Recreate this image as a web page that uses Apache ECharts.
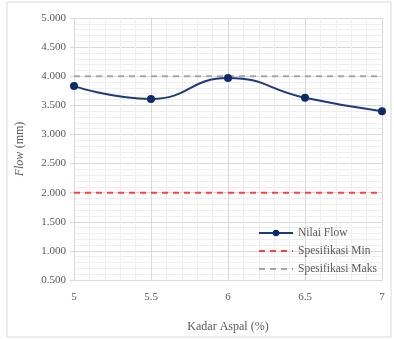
<!DOCTYPE html>
<html><head><meta charset="utf-8">
<script src="https://cdn.jsdelivr.net/npm/echarts@6/dist/echarts.min.js"></script>
<style>html,body{margin:0;padding:0;background:#fff}#c{width:394px;height:339px}</style>
</head><body><div id="c"></div>
<script>
var kadar = [5, 5.5, 6, 6.5, 7];
var nilaiFlow = [3.83, 3.61, 3.97, 3.63, 3.40];
var specMin = [2.0, 2.0, 2.0, 2.0, 2.0];
var specMaks = [4.0, 4.0, 4.0, 4.0, 4.0];
var font = '"Liberation Serif", "Times New Roman", serif';
function pairs(ys){return kadar.map(function(x,i){return [x, ys[i]];});}
var chart = echarts.init(document.getElementById('c'));
chart.setOption({
  animation:false,
  graphic:[{type:'rect',shape:{x:7,y:2,width:384,height:335},style:{fill:'none',stroke:'#d9d9d9',lineWidth:1},silent:true}],
  grid:{left:74,right:12,top:18,bottom:59},
  xAxis:{type:'value',min:5,max:7,interval:0.5,
    name:'Kadar Aspal (%)',nameLocation:'middle',nameGap:41,
    nameTextStyle:{fontFamily:font,fontSize:12,color:'#595959'},
    axisLine:{show:true,lineStyle:{color:'#d9d9d9'}},axisTick:{show:false},
    axisLabel:{fontFamily:font,fontSize:11,color:'#595959',margin:12},
    splitLine:{show:true,lineStyle:{color:'#d9d9d9',width:1}},
    minorTick:{show:false,splitNumber:5},
    minorSplitLine:{show:true,lineStyle:{color:'#efefef',width:1}}},
  yAxis:{type:'value',min:0.5,max:5,interval:0.5,
    name:'{i|Flow} {n|(mm)}',nameLocation:'middle',nameGap:48,nameRotate:90,
    nameTextStyle:{rich:{i:{fontFamily:font,fontSize:12,fontStyle:'italic',color:'#595959'},n:{fontFamily:font,fontSize:12,color:'#595959'}}},
    axisLine:{show:true,lineStyle:{color:'#d9d9d9'}},axisTick:{show:true,length:4,lineStyle:{color:'#d9d9d9'}},
    axisLabel:{fontFamily:font,fontSize:11,color:'#595959',margin:8,formatter:function(v){return v.toFixed(3);}},
    splitLine:{show:true,lineStyle:{color:'#d9d9d9',width:1}},
    minorTick:{show:false,splitNumber:5},
    minorSplitLine:{show:true,lineStyle:{color:'#efefef',width:1}}},
  legend:{orient:'vertical',left:253,top:222,itemWidth:34,itemHeight:8,itemGap:6,
    textStyle:{fontFamily:font,fontSize:11.5,color:'#595959'},
    data:[{name:'Nilai Flow'},
          {name:'Spesifikasi Min',itemStyle:{opacity:0}},
          {name:'Spesifikasi Maks',itemStyle:{opacity:0}}]},
  series:[
    {name:'Spesifikasi Min',type:'line',data:pairs(specMin),symbol:'none',
      lineStyle:{color:'#ff4040',width:2,type:[6,5]},itemStyle:{color:'#ff4040'},z:2},
    {name:'Spesifikasi Maks',type:'line',data:pairs(specMaks),symbol:'none',
      lineStyle:{color:'#a6a6a6',width:2,type:[6,5]},itemStyle:{color:'#a6a6a6'},z:2},
    {name:'Nilai Flow',type:'line',data:pairs(nilaiFlow),smooth:0.5,symbol:'circle',symbolSize:8,
      lineStyle:{color:'#1f3a7a',width:2},itemStyle:{color:'#0f2a6b'},z:3}
  ]
});
</script></body></html>
